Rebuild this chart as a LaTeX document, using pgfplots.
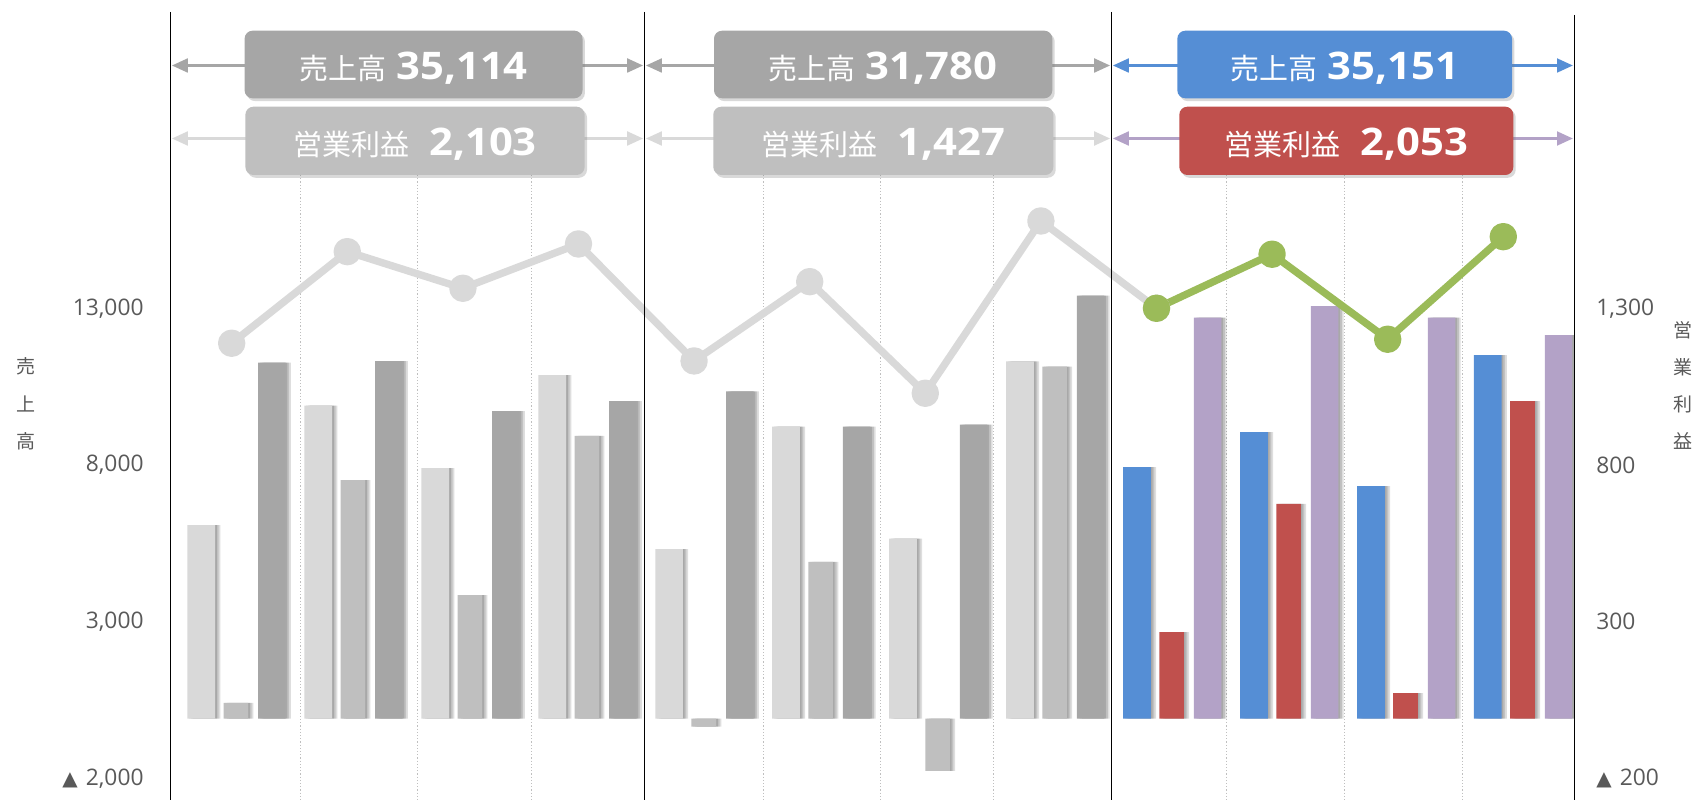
\documentclass[border=0pt]{standalone}
\usepackage{pgfplots}
\pgfplotsset{compat=1.18}
\usepackage{pgfplotstable}
\usepackage{graphicx}
\usepackage{fontspec}
\setmainfont{Open Sans}
\newfontfamily\jp{Noto Sans CJK JP}
\newfontfamily\dejavu{DejaVu Sans}
\usetikzlibrary{arrows.meta,shadows}

\definecolor{lg}{HTML}{D9D9D9}
\definecolor{mg}{HTML}{BFBFBF}
\definecolor{dg}{HTML}{A6A6A6}
\definecolor{cblue}{HTML}{558ED5}
\definecolor{cred}{HTML}{C0504D}
\definecolor{cpurple}{HTML}{B3A2C7}
\definecolor{cgreen}{HTML}{9BBB59}
\definecolor{txt}{HTML}{595959}

\newcommand\tri{{\dejavu\fontsize{10}{12}\selectfont ▲}\hspace{4pt}}
\newcommand\bignum[1]{{\normalfont\bfseries\fontsize{19}{22}\selectfont\scalebox{1.1}[1]{#1}}}

% years 1-2 (quarters 0-7): sales (left axis), operating profit (right axis), third bar (left axis)
\pgfplotstableread{
k sales prof plan
0 6176 50 11357
1 9984 761 11411
2 7995 394 9815
3 10964 902 10134
4 5410 -26 10440
5 9314 500 9316
6 5740 -167 9378
7 11400 1123 13500
}\tabA
% year 3 (quarters 8-11)
\pgfplotstableread{
k sales prof plan
8 8027 276 12793
9 9145 685 13166
10 7420 81 12793
11 11602 1013 12241
}\tabB
% line series
\pgfplotstableread{
k v
0 11979
1 14903
2 13734
3 15148
4 11414
5 13945
6 10383
7 15882
8 13096
}\tabLg
\pgfplotstableread{
k v
8 13096
9 14820
10 12107
11 15381
}\tabLc

\pgfplotsset{
  base/.style={scale only axis, width=702pt, height=393.5pt, at={(85.2pt,0pt)}, anchor=south west,
    xmin=-0.560, xmax=11.444, axis line style={draw=none}, major tick length=0pt, xtick=\empty,
    tick label style={font=\fontsize{11.4}{13}\selectfont, text=txt}},
  shb/.style={ybar, fill=black, fill opacity=0.13, draw=none, forget plot},
  mainbar/.style={ybar, draw=none, forget plot},
}

\begin{document}
\begin{tikzpicture}
% ---------- dotted quarter separators (behind everything) ----------
\begin{scope}[shift={(0pt,400pt)}, x=0.5pt, y=-0.5pt]
  \foreach \gx in {300.2,417.2,531.8,763.4,880.4,993.8,1226.6,1344.7,1462.8}
    \draw[densely dotted, color=mg, line width=0.6pt] (\gx,175) -- (\gx,800);
\end{scope}
% ---------- axis 1: sales & third bar (left scale) ----------
\begin{axis}[base, ymin=-2600, ymax=22520,
  ytick={-2000,3000,8000,13000}, yticklabels={{\tri 2,000},{3,000},{8,000},{13,000}},
  ytick pos=left, yticklabel style={anchor=east, inner sep=0pt, xshift=-13.2pt, yshift=1.5pt}]
  % shadows
  \addplot[shb, bar width=0.237, bar shift=-0.281] table[x=k,y=sales]{\tabA};
  \addplot[shb, bar width=0.237, bar shift=-0.266] table[x=k,y=sales]{\tabA};
  \addplot[shb, bar width=0.237, bar shift=-0.251] table[x=k,y=sales]{\tabA};
  \addplot[shb, bar width=0.237, bar shift=-0.281] table[x=k,y=sales]{\tabB};
  \addplot[shb, bar width=0.237, bar shift=-0.266] table[x=k,y=sales]{\tabB};
  \addplot[shb, bar width=0.237, bar shift=-0.251] table[x=k,y=sales]{\tabB};
  \addplot[shb, bar width=0.235, bar shift=0.323] table[x=k,y=plan]{\tabA};
  \addplot[shb, bar width=0.235, bar shift=0.338] table[x=k,y=plan]{\tabA};
  \addplot[shb, bar width=0.235, bar shift=0.353] table[x=k,y=plan]{\tabA};
  \addplot[shb, bar width=0.235, bar shift=0.323] table[x=k,y=plan]{\tabB};
  \addplot[shb, bar width=0.235, bar shift=0.338] table[x=k,y=plan]{\tabB};
  \addplot[shb, bar width=0.235, bar shift=0.353] table[x=k,y=plan]{\tabB};
  % bars
  \addplot[mainbar, fill=lg, bar width=0.237, bar shift=-0.296] table[x=k,y=sales]{\tabA};
  \addplot[mainbar, fill=cblue, bar width=0.237, bar shift=-0.296] table[x=k,y=sales]{\tabB};
  \addplot[mainbar, fill=dg, bar width=0.235, bar shift=0.308] table[x=k,y=plan]{\tabA};
  \addplot[mainbar, fill=cpurple, bar width=0.235, bar shift=0.308] table[x=k,y=plan]{\tabB};
\end{axis}
% ---------- axis 2: operating profit (right scale) ----------
\begin{axis}[base, ymin=-260, ymax=2252,
  ytick={-200,300,800,1300}, yticklabels={{\tri 200},{300},{800},{1,300}},
  ytick pos=right, yticklabel style={anchor=west, inner sep=0pt, xshift=10.8pt, yshift=1.5pt}]
  \addplot[shb, bar width=0.21, bar shift=0.015] table[x=k,y=prof]{\tabA};
  \addplot[shb, bar width=0.21, bar shift=0.030] table[x=k,y=prof]{\tabA};
  \addplot[shb, bar width=0.21, bar shift=0.045] table[x=k,y=prof]{\tabA};
  \addplot[shb, bar width=0.21, bar shift=0.015] table[x=k,y=prof]{\tabB};
  \addplot[shb, bar width=0.21, bar shift=0.030] table[x=k,y=prof]{\tabB};
  \addplot[shb, bar width=0.21, bar shift=0.045] table[x=k,y=prof]{\tabB};
  \addplot[mainbar, fill=mg, bar width=0.21, bar shift=0] table[x=k,y=prof]{\tabA};
  \addplot[mainbar, fill=cred, bar width=0.21, bar shift=0] table[x=k,y=prof]{\tabB};
\end{axis}
% ---------- axis 3: line ----------
\begin{axis}[base, xmin=-0.530, xmax=11.615, ymin=-2600, ymax=22520, hide axis]
  \addplot[color=lg, line width=3.7pt, line join=round, mark=*, mark size=5pt,
    mark options={fill=lg, draw=none}] table[x=k,y=v]{\tabLg};
  \addplot[color=cgreen, line width=3.7pt, line join=round, mark=*, mark size=5pt,
    mark options={fill=cgreen, draw=none}] table[x=k,y=v]{\tabLc};
\end{axis}
% ---------- annotations (pixel coordinates) ----------
\begin{scope}[shift={(0pt,400pt)}, x=0.5pt, y=-0.5pt]
  % arrows
  \tikzset{arr/.style={line width=1.5pt, -{Triangle[length=8pt,width=6.8pt]}}}
  \draw[arr, dg] (300,65.5) -- (171.8,65.5);
  \draw[arr, dg] (540,65.5) -- (643.2,65.5);
  \draw[arr, lg] (300,138.5) -- (171.8,138.5);
  \draw[arr, lg] (540,138.5) -- (643.2,138.5);
  \draw[arr, dg] (760,65.5) -- (645.8,65.5);
  \draw[arr, dg] (1000,65.5) -- (1110.2,65.5);
  \draw[arr, lg] (760,138.5) -- (645.8,138.5);
  \draw[arr, lg] (1000,138.5) -- (1110.2,138.5);
  \draw[arr, cblue] (1230,65.5) -- (1112.8,65.5);
  \draw[arr, cblue] (1460,65.5) -- (1573,65.5);
  \draw[arr, cpurple] (1230,138.5) -- (1112.8,138.5);
  \draw[arr, cpurple] (1460,138.5) -- (1573,138.5);
  % boxes
  \tikzset{bx/.style={rounded corners=4pt, drop shadow={shadow xshift=1.2pt, shadow yshift=-1.4pt, opacity=0.3}}}
  \fill[bx, dg] (244.6,30.7) rectangle (582.5,98.3);
  \fill[bx, mg] (245.4,106.7) rectangle (584.6,175);
  \fill[bx, dg] (714,30.7) rectangle (1052.3,98.3);
  \fill[bx, mg] (713.3,106.7) rectangle (1053.3,175);
  \fill[bx, cblue] (1177.3,30.7) rectangle (1512,98.3);
  \fill[bx, cred] (1179.3,106.7) rectangle (1513.3,175);
  \tikzset{bt/.style={anchor=base, text=white, inner sep=0pt, font=\jp\fontsize{14.5}{16}\selectfont}}
  \node[bt] at (413.6,80) {売上高\hspace{5pt}\bignum{35,114}};
  \node[bt] at (415,155) {営業利益\hspace{10pt}\bignum{2,103}};
  \node[bt] at (883.2,80) {売上高\hspace{5pt}\bignum{31,780}};
  \node[bt] at (883.3,155) {営業利益\hspace{10pt}\bignum{1,427}};
  \node[bt] at (1344.7,80) {売上高\hspace{5pt}\bignum{35,151}};
  \node[bt] at (1346.3,155) {営業利益\hspace{10pt}\bignum{2,053}};
  % year separators
  \draw[black, line width=0.85pt] (170.4,12) -- (170.4,800);
  \draw[black, line width=0.85pt] (644.5,12) -- (644.5,800);
  \draw[black, line width=0.85pt] (1111.5,12) -- (1111.5,800);
  \draw[black, line width=0.85pt] (1574.4,15) -- (1574.4,800);
  % axis titles
  \node[text=txt, align=center, inner sep=0pt, font=\jp\fontsize{9.5}{18.65}\selectfont] at (26,404) {売\\上\\高};
  \node[text=txt, align=center, inner sep=0pt, font=\jp\fontsize{9.5}{18.65}\selectfont] at (1683,385.5) {営\\業\\利\\益};
\end{scope}
\pgfresetboundingbox
\useasboundingbox (0,0) rectangle (847pt,400pt);
\end{tikzpicture}
\end{document}
